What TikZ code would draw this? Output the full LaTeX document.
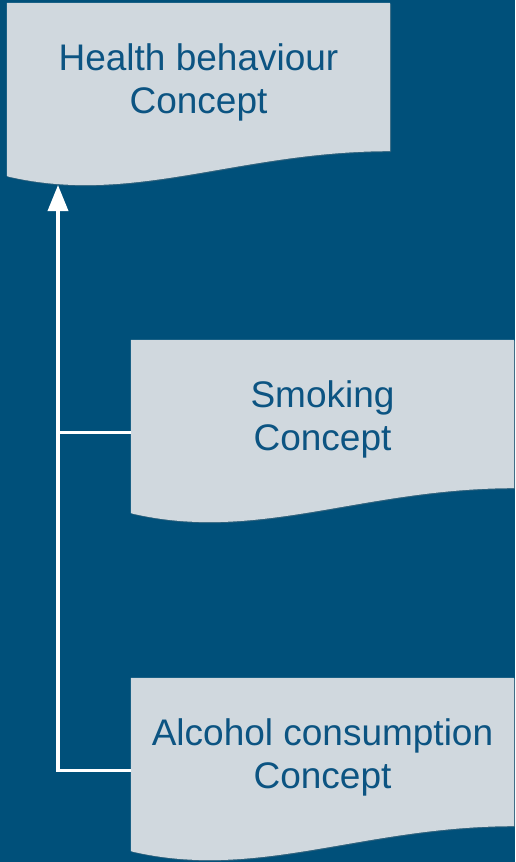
\documentclass[tikz,border=0pt]{standalone}
\usepackage{fontspec}
\setmainfont{Liberation Sans}
\usetikzlibrary{arrows.meta,calc,shadows}
\definecolor{bgblue}{HTML}{00507A}
\definecolor{boxgray}{HTML}{D0D8DE}
\definecolor{txtblue}{HTML}{0C5482}
\tikzset{concept/.style={minimum width=383pt,minimum height=173pt,inner sep=0pt},
conceptpage/.style={fill=boxgray,drop shadow={opacity=.35,shadow xshift=1pt,shadow yshift=-1pt}},
conceptname/.style={align=center,text=txtblue,font=\fontsize{37pt}{43pt}\selectfont},
link/.style={draw=white,line width=3.5pt}}
\newcommand\conceptpage[1]{\path[conceptpage](#1.north west)--(#1.north east)--([yshift=25pt]#1.south east)
 .. controls([xshift=-153pt,yshift=25pt]#1.south east)and([xshift=126pt,yshift=-30pt]#1.south west) .. (#1.south west)--cycle;}
\begin{document}
\begin{tikzpicture}[x=1pt,y=-1pt]
\fill[bgblue](0,0)rectangle(515,862);
\useasboundingbox(0,0)rectangle(515,862);
\node[concept](health)at(198.5,89.5){};\node[concept](smoke)at(322.5,426.5){};\node[concept](alc)at(322.5,764.5){};
\conceptpage{health}\conceptpage{smoke}\conceptpage{alc}
\node[conceptname](health-t)at([yshift=7.5pt]health.center){Health behaviour\\Concept};
\node[conceptname](smoke-t)at([yshift=7.5pt]smoke.center){Smoking\\Concept};
\node[conceptname](alc-t)at([yshift=7.5pt]alc.center){Alcohol consumption\\Concept};
\coordinate(tip)at(58,185);
\draw[link,-{Triangle[width=20pt,length=26pt]}]([yshift=-6pt]alc.west)-|(tip);
\draw[link]([yshift=-6pt]smoke.west)--([yshift=-6pt]smoke.west-|tip);
\end{tikzpicture}
\end{document}
